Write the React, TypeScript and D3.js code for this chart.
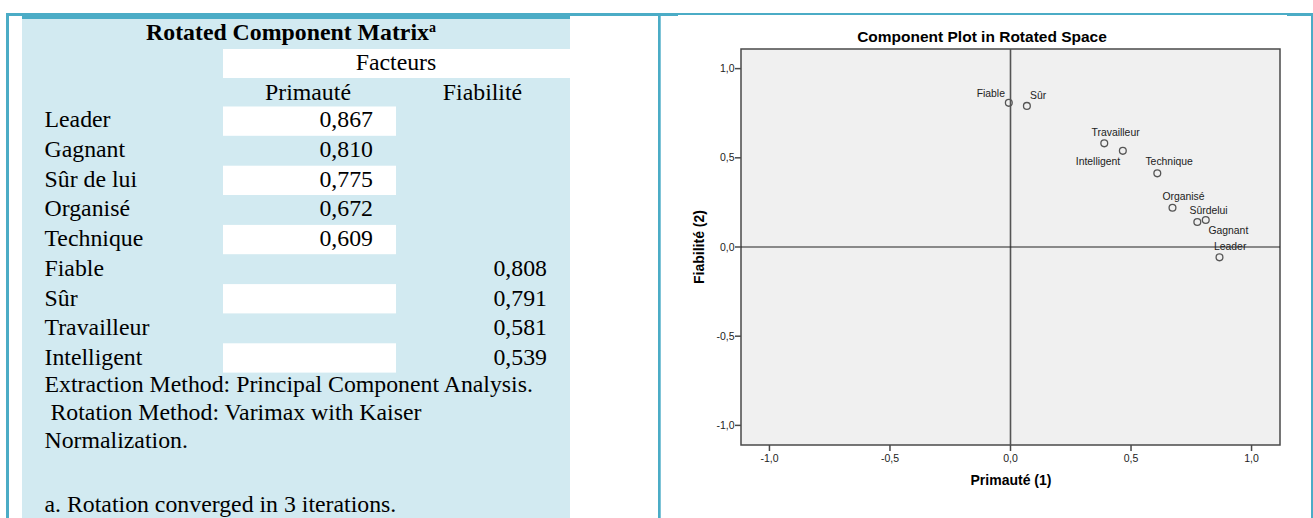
import React from "react";
import * as d3 from "d3";

// ---------- Data ----------
const rowLabels = ["Leader", "Gagnant", "Sûr de lui", "Organisé", "Technique", "Fiable", "Sûr", "Travailleur", "Intelligent"];
const primauteLoadings: (number | null)[] = [0.867, 0.81, 0.775, 0.672, 0.609, null, null, null, null];
const fiabiliteLoadings: (number | null)[] = [null, null, null, null, null, 0.808, 0.791, 0.581, 0.539];
const factorNames = ["Primauté", "Fiabilité"];
const footnotes = ["Extraction Method: Principal Component Analysis.", " Rotation Method: Varimax with Kaiser", "Normalization."];
const convergenceNote = "a. Rotation converged in 3 iterations.";

const plotLabels = ["Leader", "Gagnant", "Sûrdelui", "Organisé", "Technique", "Fiable", "Sûr", "Travailleur", "Intelligent"];
const plotPrimaute = [0.867, 0.81, 0.775, 0.672, 0.609, -0.007, 0.068, 0.389, 0.466];
const plotFiabilite = [-0.058, 0.151, 0.14, 0.22, 0.413, 0.808, 0.791, 0.581, 0.539];
const tickValues = [-1, -0.5, 0, 0.5, 1];

// label placement relative to each point (styling, not data)
const labelPlacement: [number, number][] = [
  [10.7, -11], [22.6, 10], [11.3, -11.3], [11, -11], [11.8, -12], [-18, -10], [11.2, -11], [11.3, -11], [-24.8, 10.3],
];

const TEAL = "#4BACC6";
const LIGHT = "#D2EAF1";
const SERIF = "'Liberation Serif', 'Times New Roman', serif";
const SANS = "'Liberation Sans', Arial, sans-serif";

const commaFmt = (f: string) => (v: number) => d3.format(f)(v).replace(".", ",").replace("−", "-");
const fmt3 = commaFmt(".3f");
const fmt1 = commaFmt(".1f");

export default function App() {
  // table layout
  const rowBase0 = 127.3;
  const rowStep = 29.7;
  const cellTop0 = 106.5;
  const cellStep = 29.6;
  const fs = 23.8;

  // plot scales
  const x = d3.scaleLinear().domain([-1.118, 1.118]).range([741, 1280]);
  const y = d3.scaleLinear().domain([-1.11, 1.11]).range([445, 49]);

  return (
    <svg width={1313} height={518} style={{ position: "absolute", left: 0, top: 0 }}>
      <rect x={0} y={0} width={1313} height={518} fill="#fff" />
      {/* Left panel background */}
      <rect x={22} y={19} width={548} height={499} fill={LIGHT} />
      <rect x={223} y={49} width={347} height={29} fill="#fff" />
      {rowLabels.map((_, i) =>
        i % 2 === 0 ? (
          <rect key={i} x={223} y={cellTop0 + i * cellStep} width={173} height={29.3} fill="#fff" />
        ) : null
      )}

      {/* Frame */}
      <rect x={6} y={13} width={654} height={3} fill={TEAL} />
      <rect x={22} y={16} width={548} height={3} fill={TEAL} />
      <rect x={660} y={13} width={18} height={3} fill={TEAL} />
      <rect x={678} y={13} width={609} height={2} fill={TEAL} />
      <rect x={1287} y={13} width={26} height={3} fill={TEAL} />
      <rect x={6} y={13} width={3} height={505} fill={TEAL} />
      <rect x={658} y={13} width={2.7} height={505} fill={TEAL} />
      <rect x={1311} y={13} width={2} height={505} fill={TEAL} />

      {/* Table text */}
      <g fontFamily={SERIF} fontSize={fs} fill="#000">
        <text x={291} y={40} textAnchor="middle" fontWeight="bold">
          Rotated Component Matrix
          <tspan fontSize={14} dy={-8}>a</tspan>
        </text>
        <text x={396} y={70} textAnchor="middle">Facteurs</text>
        <text x={308} y={100} textAnchor="middle">{factorNames[0]}</text>
        <text x={482.5} y={100} textAnchor="middle">{factorNames[1]}</text>
        {rowLabels.map((lab, i) => (
          <g key={lab}>
            <text x={44.5} y={rowBase0 + i * rowStep}>{lab}</text>
            {primauteLoadings[i] !== null && (
              <text x={373} y={rowBase0 + i * rowStep} textAnchor="end">{fmt3(primauteLoadings[i] as number)}</text>
            )}
            {fiabiliteLoadings[i] !== null && (
              <text x={547} y={rowBase0 + i * rowStep} textAnchor="end">{fmt3(fiabiliteLoadings[i] as number)}</text>
            )}
          </g>
        ))}
        {footnotes.map((t, i) => (
          <text key={i} x={44.5} y={392.3 + i * 27.7} xmlSpace="preserve" style={{ whiteSpace: "pre" }}>{t}</text>
        ))}
        <text x={44.5} y={511.5}>{convergenceNote}</text>
      </g>

      {/* Plot */}
      <g fontFamily={SANS}>
        <text x={982} y={41.7} textAnchor="middle" fontWeight="bold" fontSize={15.5}>Component Plot in Rotated Space</text>
        <rect x={x.range()[0]} y={y.range()[1]} width={x.range()[1] - x.range()[0]} height={y.range()[0] - y.range()[1]} fill="#F0F0F0" stroke="#4a4a4a" strokeWidth={1.5} />
        {/* zero lines */}
        <line x1={x(0)} x2={x(0)} y1={y.range()[1]} y2={y.range()[0]} stroke="#555" strokeWidth={1.6} />
        <line x1={x.range()[0]} x2={x.range()[1]} y1={y(0)} y2={y(0)} stroke="#222" strokeWidth={1.1} />
        {/* y ticks */}
        {tickValues.map((t) => (
          <g key={"y" + t}>
            <line x1={735} x2={741} y1={y(t)} y2={y(t)} stroke="#4a4a4a" strokeWidth={1.5} />
            <text x={734.5} y={y(t)} dy="0.35em" textAnchor="end" fontSize={10.5} fill="#222">{fmt1(t)}</text>
          </g>
        ))}
        {/* x ticks */}
        {tickValues.map((t) => (
          <g key={"x" + t}>
            <line x1={x(t)} x2={x(t)} y1={445} y2={451} stroke="#4a4a4a" strokeWidth={1.5} />
            <text x={x(t)} y={462} textAnchor="middle" fontSize={10.5} fill="#222">{fmt1(t)}</text>
          </g>
        ))}
        <text x={1011} y={485} textAnchor="middle" fontWeight="bold" fontSize={14}>Primauté (1)</text>
        <text transform={`translate(704,${y(0)}) rotate(-90)`} textAnchor="middle" fontWeight="bold" fontSize={14}>Fiabilité (2)</text>
        {/* points */}
        {plotLabels.map((lab, i) => (
          <g key={lab}>
            <circle cx={x(plotPrimaute[i])} cy={y(plotFiabilite[i])} r={3.4} fill="none" stroke="#555" strokeWidth={1.3} />
            <text
              x={x(plotPrimaute[i]) + labelPlacement[i][0]}
              y={y(plotFiabilite[i]) + labelPlacement[i][1]}
              dy="0.35em"
              textAnchor="middle"
              fontSize={10.4}
              fill="#222"
            >
              {lab}
            </text>
          </g>
        ))}
      </g>
    </svg>
  );
}
